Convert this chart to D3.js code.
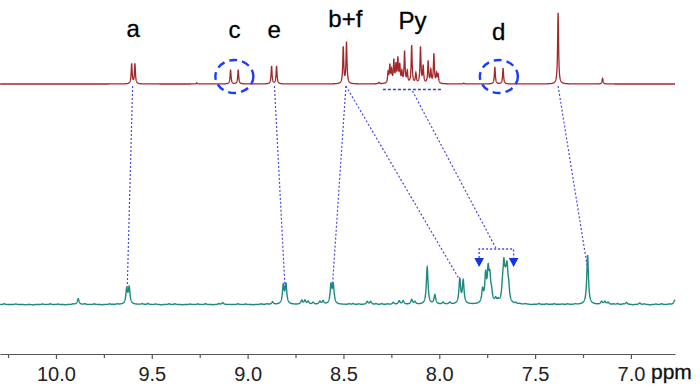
<!DOCTYPE html>
<html>
<head>
<meta charset="utf-8">
<script src="https://cdn.jsdelivr.net/npm/d3@7"></script>
<style>
  html, body { margin: 0; padding: 0; background: #fff; }
  svg { display: block; font-family: "Liberation Sans", Arial, sans-serif; }
</style>
</head>
<body>
<svg id="chart" width="700" height="391"></svg>
<script>
// chemical shift range shown (ppm, reversed axis)
const ppmRange = [10.292, 6.77];
const majorTicks = [10.0, 9.5, 9.0, 8.5, 8.0, 7.5, 7.0];
const minorTicks = [10.25, 9.75, 9.25, 8.75, 8.25, 7.75, 7.25];

// top spectrum (free ligand): peak positions (ppm) and heights
const topShifts = [9.605, 9.588, 9.266, 9.089, 9.049, 8.875, 8.849, 8.501, 8.484, 8.315,
    8.267, 8.258, 8.249, 8.237, 8.226, 8.216, 8.206, 8.195, 8.181, 8.167,
    8.144, 8.122, 8.098, 8.084, 8.058, 8.044, 8.028, 8.014, 8.006,
    7.872, 7.710, 7.667, 7.380, 7.148];
const topHeights = [28, 28, 1.5, 20, 20, 25, 25, 51, 58, 2,
    15, 24, 17, 31, 24, 33, 24, 15, 44, 16,
    53, 14, 51, 24, 31, 18, 41, 13, 12,
    1.2, 24, 22, 100, 8];

// bottom spectrum (complex): peak positions and heights
const botShifts = [9.884, 9.631, 9.618, 9.13, 8.870, 8.814, 8.800, 8.718, 8.701, 8.684, 8.658, 8.623, 8.606,
    8.565, 8.553, 8.376, 8.358, 8.240, 8.209, 8.188, 8.144, 8.127, 8.063, 8.023, 7.980, 7.945,
    7.893, 7.875, 7.774, 7.758, 7.745, 7.736, 7.727, 7.706, 7.693,
    7.670, 7.663, 7.656, 7.651, 7.646, 7.638,
    7.226, 7.153, 7.136, 7.119, 7.023, 6.954, 6.772];
const botHeights = [8, 21, 23, 2.5, 3.5, 26, 27, 5.5, 5.5, 4, 2.8, 4, 4.5,
    26, 26, 4, 4, 2.8, 5, 5, 6.5, 3.5, 52, 13, 2.8, 2.8,
    34, 32, 18, 38, 42, 32, 12, 6, 4,
    18, 46, 16, 16, 38, 18,
    69, 4, 4, 2.8, 2.8, 2, 6];
// small baseline wiggles
const noiseShifts = [10.27, 10.21, 10.16, 10.12, 10.07, 10.03, 9.99, 9.95, 9.91, 9.85, 9.80, 9.76, 9.72,
    9.68, 9.55, 9.52, 9.48, 9.45, 9.41, 9.38, 9.34, 9.30, 9.26, 9.22, 9.18, 9.15, 9.05, 9.01, 8.97, 8.93, 8.90,
    8.47, 8.45, 8.42, 8.33, 8.30, 8.27, 7.60, 7.58, 7.55, 7.52, 7.48, 7.44, 7.40, 7.36, 7.33, 7.29,
    7.09, 7.07, 7.04, 6.99, 6.93, 6.90, 6.87, 6.84, 6.80];
const noiseHeights = [1.2, 0.9, -0.6, -0.8, 0.8, 1, 0.7, -0.7, 0.9, 1.1, 0.9, -0.6, 0.9,
    0.8, 1.2, 1.4, 0.7, -0.8, 1.1, 1, -0.5, 0.8, 0.9, 1.2, -0.6, 1.4, 1, 0.7, -0.6, 0.9, 0.9,
    1, 1.3, 0.8, 1.1, 1.2, 0.9, 1.4, 0.8, 1, -0.6, 1.3, 0.9, 1.1, 0.7, 0.9, 0.8,
    0.8, 1.3, 0.7, -0.7, 0.9, -0.8, 0.7, 1.2, 0.8];

// annotations
const labelText = ["a", "c", "e", "b+f", "Py", "d"];
const labelShift = [9.597, 9.069, 8.862, 8.49, 8.14, 7.69];
const circledShift = [9.069, 7.689];
const pyRange = [8.294, 7.986];
const pyArrows = [7.792, 7.612];
const links = [[9.600, 9.628], [8.860, 8.805], [8.487, 8.557], [8.487, 7.890], [7.380, 7.229]];

const svg = d3.select("#chart");
const x = d3.scaleLinear().domain(ppmRange).range([0, 675]);
const yTop = d3.scaleLinear().domain([0, 100]).range([84, 12.7]);
const yBot = d3.scaleLinear().domain([0, 100]).range([304.5, 233.2]);

function spectrum(shifts, heights, width) {
    return ppm => {
        let s = 0;
        for (let i = 0; i < shifts.length; i++) {
            const u = (ppm - shifts[i]) / width;
            s += heights[i] / (1 + u * u);
        }
        return s;
    };
}
const topFn = spectrum(topShifts, topHeights, 0.003);
const botPeaks = spectrum(botShifts, botHeights, 0.0052);
const botNoise = spectrum(noiseShifts, noiseHeights, 0.004);
const botFn = p => botPeaks(p) + botNoise(p);

const grid = d3.range(ppmRange[1], ppmRange[0], 0.0005);

svg.append("path")
    .datum(grid)
    .attr("fill", "none")
    .attr("stroke", "#a3282c")
    .attr("stroke-width", 1.3)
    .attr("d", d3.line().x(p => x(p)).y(p => yTop(topFn(p))));

svg.append("path")
    .datum(grid)
    .attr("fill", "none")
    .attr("stroke", "#1e8a7f")
    .attr("stroke-width", 1.4)
    .attr("d", d3.line().x(p => x(p)).y(p => yBot(botFn(p))));

// axis
const axisG = svg.append("g").attr("transform", "translate(0,354)");
axisG.call(d3.axisBottom(x).tickValues(majorTicks).tickSize(5).tickSizeOuter(0).tickPadding(8)
    .tickFormat(d3.format(".1f")));
axisG.append("g").call(d3.axisBottom(x).tickValues(minorTicks).tickSize(4).tickFormat(""))
    .select(".domain").remove();
axisG.selectAll("path, line").attr("stroke", "#555").attr("stroke-width", 1.2);
axisG.selectAll("text").attr("font-size", 20).attr("fill", "#222")
    .attr("font-family", "'Liberation Sans', Arial, sans-serif");

svg.append("text")
    .attr("x", 651).attr("y", 379)
    .attr("font-size", 21)
    .attr("fill", "#111")
    .attr("stroke", "#111").attr("stroke-width", 0.3)
    .text("ppm");

// peak labels
const labelBase = [37, 38, 38, 27, 29, 40];
svg.selectAll("text.lbl")
    .data(labelText)
    .join("text")
    .attr("class", "lbl")
    .attr("x", (d, i) => x(labelShift[i]))
    .attr("y", (d, i) => labelBase[i])
    .attr("text-anchor", "middle")
    .attr("font-size", 24)
    .attr("fill", "#000")
    .attr("stroke", "#000").attr("stroke-width", 0.3)
    .text(d => d);

// dashed circles around c and d
svg.selectAll("ellipse")
    .data(circledShift)
    .join("ellipse")
    .attr("cx", d => x(d))
    .attr("cy", 76.5)
    .attr("rx", 19)
    .attr("ry", 16.5)
    .attr("fill", "none")
    .attr("stroke", "#1a3cff")
    .attr("stroke-width", 2.4)
    .attr("stroke-dasharray", "8,5");

const dotColor = "#4a4ae0";
// Py underline
svg.append("line")
    .attr("x1", x(pyRange[0])).attr("x2", x(pyRange[1]))
    .attr("y1", 89.5).attr("y2", 89.5)
    .attr("stroke", "#3344cc").attr("stroke-width", 1.4)
    .attr("stroke-dasharray", "3,2");

// correlation lines between spectra
svg.selectAll("line.link")
    .data(links)
    .join("line")
    .attr("class", "link")
    .attr("x1", d => x(d[0]))
    .attr("y1", yTop(0) + 2)
    .attr("x2", d => x(d[1]))
    .attr("y2", d => yBot(botFn(d[1])) - 2.5)
    .attr("stroke", dotColor)
    .attr("stroke-width", 1.2)
    .attr("stroke-dasharray", "2,2");

// Py bracket with arrows
const bracketY = 249, arrowTop = 258;
const pyMid = (pyArrows[0] + pyArrows[1]) / 2;
svg.append("line")
    .attr("x1", x(d3.mean(pyRange))).attr("y1", 91)
    .attr("x2", x(pyMid)).attr("y2", bracketY)
    .attr("stroke", dotColor).attr("stroke-width", 1.2)
    .attr("stroke-dasharray", "2,2");
svg.append("path")
    .attr("d", `M${x(pyArrows[0])},${arrowTop}V${bracketY}H${x(pyArrows[1])}V${arrowTop}`)
    .attr("fill", "none")
    .attr("stroke", dotColor).attr("stroke-width", 1.4)
    .attr("stroke-dasharray", "2,2");
svg.selectAll("path.arrow")
    .data(pyArrows)
    .join("path")
    .attr("class", "arrow")
    .attr("d", d => `M${x(d) - 4.8},${arrowTop}H${x(d) + 4.8}L${x(d)},${arrowTop + 9}Z`)
    .attr("fill", "#1533e6");
</script>
</body>
</html>
